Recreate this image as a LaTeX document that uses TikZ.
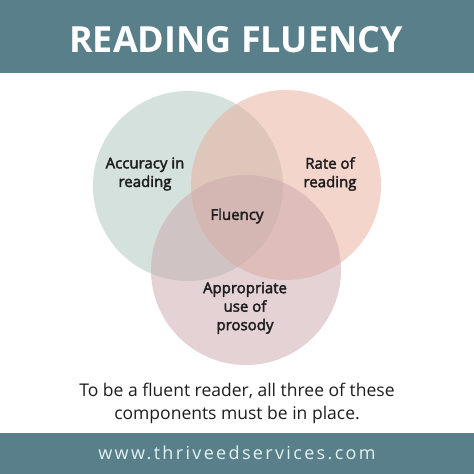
\documentclass[tikz,border=0pt]{standalone}
\usepackage{fontspec}
\setmainfont{Open Sans}
\newfontfamily\urlfont[LetterSpace=13]{Open Sans}
\newfontfamily\lblfont[FakeBold=2.5]{Open Sans}
\definecolor{banner}{HTML}{587F8A}
\definecolor{cleft}{HTML}{ABC5BD}
\definecolor{cright}{HTML}{EBAD9B}
\definecolor{cbottom}{HTML}{CBA7AB}
\definecolor{ink}{HTML}{1E1E1E}
\definecolor{urlcol}{HTML}{E4F1F1}
\tikzset{
  venn/.style={circle, minimum size=190pt, inner sep=0pt, fill opacity=0.5},
  lbl/.style={align=center, text=ink, font=\fontsize{15}{18.5}\selectfont\lblfont},
}
\begin{document}
\begin{tikzpicture}[x=1pt,y=-1pt]
\useasboundingbox (0,0) rectangle (474,474);
\fill[white] (0,0) rectangle (474,474);
\fill[banner] (0,0) rectangle (474,73);
\fill[banner] (0,433) rectangle (474,474);
\node (title) at (236,40) {\color{white}\fontsize{36}{40}\selectfont\bfseries READING FLUENCY};
\node[venn, fill=cleft] (cl) at (188,186) {};
\node[venn, fill=cright] (cr) at (286,185) {};
\node[venn, fill=cbottom] (cb) at (246,270) {};
\node[lbl] (acc) at (145,174) {Accuracy in\\reading};
\node[lbl] (rate) at (330,174) {Rate of\\reading};
\node[lbl] (flu) at (237,216) {Fluency};
\node[lbl] (app) at (245,308) {Appropriate\\use of\\prosody};
\node[align=center, text=ink, font=\fontsize{17.5}{23}\selectfont] (cap) at (237,403) {To be a fluent reader, all three of these\\components must be in place.};
\node[text=urlcol, font=\fontsize{18}{20}\selectfont\urlfont] (url) at (237,453) {www.thriveedservices.com};
\end{tikzpicture}
\end{document}
